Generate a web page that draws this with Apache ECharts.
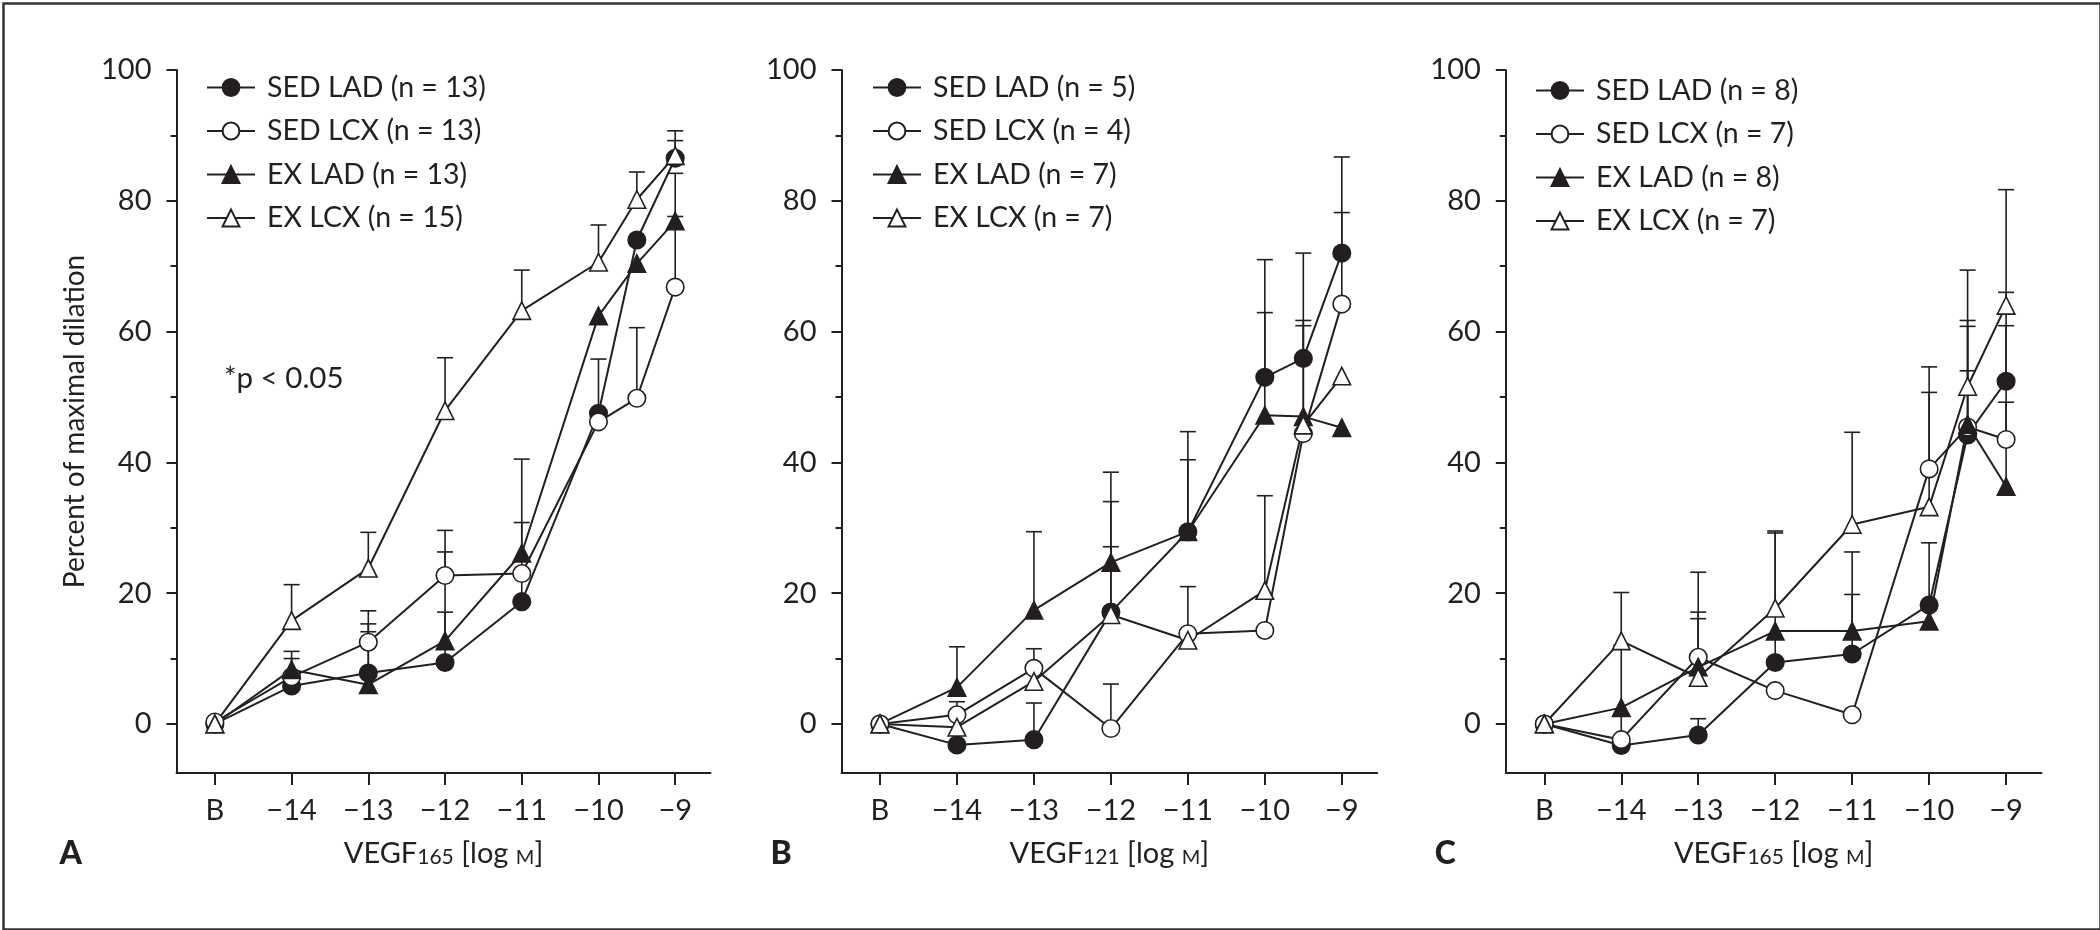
<!DOCTYPE html>
<html><head><meta charset="utf-8">
<script src="https://cdn.jsdelivr.net/npm/echarts@6/dist/echarts.min.js"></script>
<style>html,body{margin:0;padding:0;background:#fff}#c{width:2100px;height:930px}</style>
</head><body><div id="c"></div>
<script>
// ---------- data ----------
const doseLabels = ['B', '−14', '−13', '−12', '−11', '−10', '−9.5', '−9'];
const doseLogM = [-15, -14, -13, -12, -11, -10, -9.5, -9]; // baseline "B" plotted at -15
const tickLogM = [-15, -14, -13, -12, -11, -10, -9];
const tickLabels = ['B', '−14', '−13', '−12', '−11', '−10', '−9'];
const yMajorTicks = [0, 20, 40, 60, 80, 100];
const yMinorTicks = [10, 30, 50, 70, 90];

const groupNames = ['SED LAD', 'SED LCX', 'EX LAD', 'EX LCX'];
const nA = [13, 13, 13, 15];
const nB = [5, 4, 7, 7];
const nC = [8, 7, 8, 7];

// Panel A (VEGF165)
const A_sedLad = [0, 5.8, 7.8, 9.4, 18.7, 47.5, 74.0, 86.5];
const A_sedLcx = [0.3, 7.2, 12.5, 22.7, 23.0, 46.2, 49.8, 66.8];
const A_exLad  = [0, 8.3, 6.0, 12.7, 26.1, 62.4, 70.4, 76.9];
const A_exLcx  = [0, 15.8, 23.8, 47.9, 63.2, 70.6, 80.2, 86.9];
// upper ends of error bars (null = none visible)
const A_sedLadHi = [null, null, 15.3, 26.3, 30.8, 55.8, null, 89.2];
const A_sedLcxHi = [null, 10.0, 17.3, 29.6, null, null, 60.6, 77.6];
const A_exLadHi  = [null, 11.1, 14.1, 17.1, 40.5, null, null, 84.2];
const A_exLcxHi  = [null, 21.3, 29.3, 56.0, 69.4, 76.3, 84.4, 90.7];

// Panel B (VEGF121)
const B_sedLad = [0, -3.2, -2.4, 17.1, 29.4, 53.0, 55.9, 72.0];
const B_sedLcx = [0, 1.4, 8.5, -0.7, 13.8, 14.3, 44.4, 64.2];
const B_exLad  = [0, 5.6, 17.4, 24.7, 29.4, 47.2, 47.0, 45.3];
const B_exLcx  = [0, -0.5, 6.5, 16.7, 12.8, 20.4, 45.7, 53.2];
const B_sedLadHi = [null, null, 3.2, 34.0, 44.7, 71.0, 72.0, 86.7];
const B_sedLcxHi = [null, 3.4, 11.5, 6.1, 21.0, null, null, 78.2];
const B_exLadHi  = [null, 11.8, 29.4, 38.5, 40.4, 62.9, 61.7, null];
const B_exLcxHi  = [null, null, null, 27.1, null, 34.9, 60.9, null];

// Panel C (VEGF165)
const C_sedLad = [0, -3.3, -1.7, 9.4, 10.7, 18.2, 44.2, 52.4];
const C_sedLcx = [0, -2.4, 10.2, 5.1, 1.4, 39.0, 45.4, 43.5];
const C_exLad  = [0, 2.5, 8.7, 14.2, 14.2, 15.7, 45.8, 36.3];
const C_exLcx  = [0, 12.7, 7.1, 17.7, 30.5, 33.2, 51.6, 64.0];
const C_sedLadHi = [null, null, 0.8, 29.2, 19.8, 27.7, 60.8, 66.0];
const C_sedLcxHi = [null, 1.5, 23.2, null, null, 54.6, 61.7, 60.9];
const C_exLadHi  = [null, 12.0, 17.1, null, 26.3, null, 54.0, 49.2];
const C_exLcxHi  = [null, 20.1, 16.1, 29.5, 44.6, 50.7, 69.4, 81.7];

// ---------- styling ----------
const INK = '#231f20';
const FONT = 'Lato';
const markerStyles = [
  {symbol: 'circle', fill: INK},
  {symbol: 'circle', fill: '#ffffff'},
  {symbol: 'triangle', fill: INK},
  {symbol: 'triangle', fill: '#ffffff'}
];

const panels = [
  {means: [A_sedLad, A_sedLcx, A_exLad, A_exLcx], his: [A_sedLadHi, A_sedLcxHi, A_exLadHi, A_exLcxHi], n: nA,
   left: 176.5, right: 1389.5, sub: '165', letter: 'A', legendLeft: 201, legendTop: 68},
  {means: [B_sedLad, B_sedLcx, B_exLad, B_exLcx], his: [B_sedLadHi, B_sedLcxHi, B_exLadHi, B_exLcxHi], n: nB,
   left: 841.5, right: 722.8, sub: '121', letter: 'B', legendLeft: 867, legendTop: 68},
  {means: [C_sedLad, C_sedLcx, C_exLad, C_exLcx], his: [C_sedLadHi, C_sedLcxHi, C_exLadHi, C_exLcxHi], n: nC,
   left: 1505.8, right: 58.5, sub: '165', letter: 'C', legendLeft: 1530, legendTop: 71}
];

function errRender(params, api) {
  const x = api.value(0), lo = api.value(1), hi = api.value(2);
  const p0 = api.coord([x, lo]);
  const p1 = api.coord([x, hi]);
  const hw = 8;
  return {type: 'group', children: [
    {type: 'line', shape: {x1: p0[0], y1: p0[1], x2: p1[0], y2: p1[1]}, style: {stroke: INK, lineWidth: 1.6}},
    {type: 'line', shape: {x1: p1[0] - hw, y1: p1[1], x2: p1[0] + hw, y2: p1[1]}, style: {stroke: INK, lineWidth: 1.6}}
  ]};
}

const grid = [], xAxis = [], yAxis = [], series = [], legend = [], graphic = [];
const rich = {
  t: {fontSize: 29, fontFamily: FONT, color: INK, lineHeight: 34, verticalAlign: 'bottom'},
  s: {fontSize: 21, fontFamily: FONT, color: INK, lineHeight: 23, verticalAlign: 'bottom'},
  m: {fontSize: 20, fontFamily: FONT, color: INK, lineHeight: 29, verticalAlign: 'bottom'}
};

panels.forEach((p, pi) => {
  grid.push({left: p.left, right: p.right, top: 70, bottom: 157, containLabel: false, outerBoundsMode: 'none'});
  xAxis.push({
    gridIndex: pi, type: 'value', min: -15.5, max: -8.54,
    axisLine: {show: true, onZero: false, lineStyle: {color: INK, width: 2}},
    splitLine: {show: false},
    axisTick: {show: true, length: 12, customValues: tickLogM, lineStyle: {color: INK, width: 2}},
    axisLabel: {show: true, customValues: tickLogM, margin: 23, fontSize: 29, fontFamily: FONT, color: INK,
      formatter: v => tickLabels[tickLogM.findIndex(t => Math.abs(t - v) < 1e-6)]},
    name: '{t|VEGF}{s|' + p.sub + '}{t| [log }{m|M}{t|]}',
    nameLocation: 'middle', nameGap: 61,
    nameTextStyle: {rich: rich}
  });
  const yBase = {
    gridIndex: pi, type: 'value', min: -7.5, max: 100, position: 'left', offset: 0,
    splitLine: {show: false}
  };
  yAxis.push(Object.assign({}, yBase, {
    axisLine: {show: true, onZero: false, lineStyle: {color: INK, width: 2}},
    axisTick: {show: true, length: 10, customValues: yMajorTicks, lineStyle: {color: INK, width: 2}},
    axisLabel: {show: true, customValues: yMajorTicks, margin: 25, fontSize: 29, fontFamily: FONT, color: INK},
    name: pi === 0 ? 'Percent of maximal dilation' : '',
    nameLocation: 'middle', nameGap: 88, nameRotate: 90,
    nameTextStyle: {fontSize: 28, fontFamily: FONT, color: INK}
  }));
  yAxis.push(Object.assign({}, yBase, {
    axisLine: {show: false},
    axisTick: {show: true, length: 6, customValues: yMinorTicks, lineStyle: {color: INK, width: 2}},
    axisLabel: {show: false}
  }));
  const names = groupNames.map((g, k) => g + ' (n = ' + p.n[k] + ')');
  // error bars (behind)
  p.his.forEach((hi, k) => {
    const d = [];
    hi.forEach((h, i) => { if (h !== null) d.push([doseLogM[i], p.means[k][i], h]); });
    series.push({
      type: 'custom', name: 'err' + pi + k, xAxisIndex: pi, yAxisIndex: pi * 2,
      renderItem: errRender, data: d, encode: {x: 0, y: [1, 2]}, z: 1, silent: true
    });
  });
  // lines + markers
  p.means.forEach((m, k) => {
    const ms = markerStyles[k];
    series.push({
      type: 'line', name: names[k], xAxisIndex: pi, yAxisIndex: pi * 2,
      data: m.map((v, i) => [doseLogM[i], v]),
      symbol: ms.symbol, symbolSize: 17.5, showSymbol: true, z: 3,
      lineStyle: {color: INK, width: 2},
      itemStyle: {color: ms.fill, borderColor: INK, borderWidth: 1.6, opacity: 1},
      emphasis: {disabled: true}, silent: true
    });
  });
  legend.push({
    data: names, left: p.legendLeft, top: p.legendTop, orient: 'vertical',
    itemWidth: 48, itemHeight: 21, itemGap: 14.5, selectedMode: false,
    textStyle: {fontSize: 28.5, fontFamily: FONT, color: INK, lineHeight: 28, padding: [0, 0, 0, 7]}
  });
  graphic.push({
    type: 'text', left: p.left - (pi === 0 ? 117 : 71), top: 838,
    style: {text: p.letter, fontSize: 32, fontWeight: 900, fontFamily: FONT, fill: INK}
  });
});

graphic.push({type: 'text', left: 224, top: 363,
  style: {text: '*p < 0.05', fontSize: 29.5, fontFamily: FONT, fill: INK}});
graphic.push({type: 'rect', left: 1, top: 1, z: 100,
  shape: {x: 0, y: 0, width: 2097, height: 926},
  style: {fill: 'none', stroke: '#333333', lineWidth: 2.5}});

const chart = echarts.init(document.getElementById('c'), null, {renderer: 'canvas'});
chart.setOption({
  animation: false, backgroundColor: '#ffffff',
  grid, xAxis, yAxis, series, legend, graphic
});
</script></body></html>
